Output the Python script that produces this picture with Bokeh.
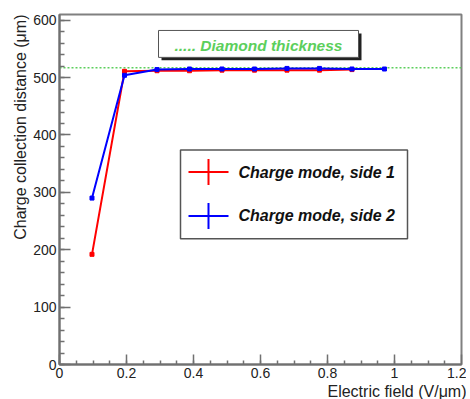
from bokeh.plotting import figure
from bokeh.models import (Span, Label, Title, FixedTicker)
from bokeh.embed import file_html
from bokeh.resources import INLINE

# ---- data ----
field_side1 = [0.097, 0.194, 0.291, 0.388, 0.485, 0.582, 0.679, 0.776, 0.873]
ccd_side1 = [192, 511, 512, 512, 513, 513, 513, 513, 514]
field_side2 = [0.097, 0.194, 0.291, 0.388, 0.485, 0.582, 0.679, 0.776, 0.873, 0.970]
ccd_side2 = [290, 504, 514, 515, 515, 515, 516, 516, 515, 515]
diamond_thickness = 517

x_ticks = [0, 0.2, 0.4, 0.6, 0.8, 1.0, 1.2]
x_tick_labels = ["0", "0.2", "0.4", "0.6", "0.8", "1", "1.2"]
y_ticks = [0, 100, 200, 300, 400, 500, 600]
y_tick_labels = ["0", "100", "200", "300", "400", "500", "600"]

series_names = ["Charge mode, side 1", "Charge mode, side 2"]
series_colors = ["#ff0000", "#0000ff"]
thickness_label = "..... Diamond thickness"
thickness_color = "#5ccf5c"

X_MAX, Y_MAX = 1.2, 610
FONT = "Liberation Sans"

# ---- layout (pixels in the picture) ----
FRAME_L, FRAME_T, FRAME_W, FRAME_H = 59, 14, 402, 351
FIG_W, FIG_H = 466, 399


def fx(px):
    return (px - FRAME_L) * X_MAX / FRAME_W


def fy(py):
    return (FRAME_T + FRAME_H - py) * Y_MAX / FRAME_H


p = figure(width=FIG_W, height=FIG_H, x_range=(0, X_MAX), y_range=(0, Y_MAX),
           output_backend="svg", toolbar_location=None,
           min_border_left=FRAME_L, min_border_top=FRAME_T,
           min_border_right=FIG_W - FRAME_L - FRAME_W,
           min_border_bottom=FIG_H - FRAME_T - FRAME_H)
p.background_fill_color = "white"
p.border_fill_color = "white"
p.outline_line_color = "#808080"
p.outline_line_width = 2
p.xgrid.visible = False
p.ygrid.visible = False

p.xaxis.ticker = FixedTicker(ticks=x_ticks, minor_ticks=[i * 0.05 for i in range(25)])
p.xaxis.major_label_overrides = {t: l for t, l in zip(x_ticks, x_tick_labels)}
p.yaxis.ticker = FixedTicker(ticks=y_ticks, minor_ticks=[i * 20 for i in range(31)])
p.yaxis.major_label_overrides = {t: l for t, l in zip(y_ticks, y_tick_labels)}

for ax in (p.xaxis[0], p.yaxis[0]):
    ax.axis_line_color = "#707070"
    ax.axis_line_width = 2
    ax.major_tick_line_color = "#707070"
    ax.minor_tick_line_color = "#707070"
    ax.major_tick_line_width = 1.5
    ax.minor_tick_line_width = 1.5
    ax.major_tick_out = 0
    ax.minor_tick_out = 0
    ax.major_label_text_font = FONT
    ax.major_label_text_font_size = "14px"
    ax.major_label_text_color = "#222222"
p.xaxis.major_tick_in = 10
p.xaxis.minor_tick_in = 4
p.xaxis.major_label_standoff = 3
p.yaxis.major_tick_in = 11
p.yaxis.minor_tick_in = 5
p.yaxis.major_label_standoff = 3

p.add_layout(Title(text="Charge collection distance (μm)", align="right",
                   text_font=FONT, text_font_size="16px", text_font_style="normal",
                   text_color="#222222", standoff=4), "left")
p.add_layout(Title(text="Electric field (V/μm)", align="right",
                   text_font=FONT, text_font_size="16px", text_font_style="normal",
                   text_color="#222222", standoff=0, offset=-5), "below")

# thickness line
p.add_layout(Span(location=diamond_thickness, dimension="width", line_color=thickness_color,
                  line_width=1.5, line_dash="2 2", level="underlay"))

# series
for xs, ys, c in ((field_side1, ccd_side1, series_colors[0]),
                  (field_side2, ccd_side2, series_colors[1])):
    p.line(xs, ys, line_color=c, line_width=2)
    p.scatter(xs, ys, marker="square", size=4, fill_color=c, line_color=c)

# thickness legend box with shadow
p.quad(left=[fx(161)], right=[fx(361)], top=[fy(33)], bottom=[fy(60)],
       fill_color="#222222", line_color=None)
p.quad(left=[fx(158)], right=[fx(358)], top=[fy(30)], bottom=[fy(57)],
       fill_color="white", line_color="#555555", line_width=1)
p.add_layout(Label(x=fx(174), y=fy(45), text=thickness_label, text_font=FONT,
                   text_font_size="15.5px", text_font_style="bold italic",
                   text_color=thickness_color, text_baseline="middle"))

# series legend
p.quad(left=[fx(180)], right=[fx(407)], top=[fy(150)], bottom=[fy(239)],
       fill_color="white", line_color="#555555", line_width=1.5)
for i, (name, c) in enumerate(zip(series_names, series_colors)):
    cy = 172 + 44 * i
    p.segment(x0=[fx(188)], y0=[fy(cy)], x1=[fx(228)], y1=[fy(cy)], line_color=c, line_width=2)
    p.segment(x0=[fx(208)], y0=[fy(cy - 13)], x1=[fx(208)], y1=[fy(cy + 13)], line_color=c, line_width=2)
    p.add_layout(Label(x=fx(238), y=fy(cy), text=name, text_font=FONT,
                       text_font_size="16px", text_font_style="bold italic",
                       text_color="#111111", text_baseline="middle"))

open("out.html", "w").write(file_html(p, INLINE))
